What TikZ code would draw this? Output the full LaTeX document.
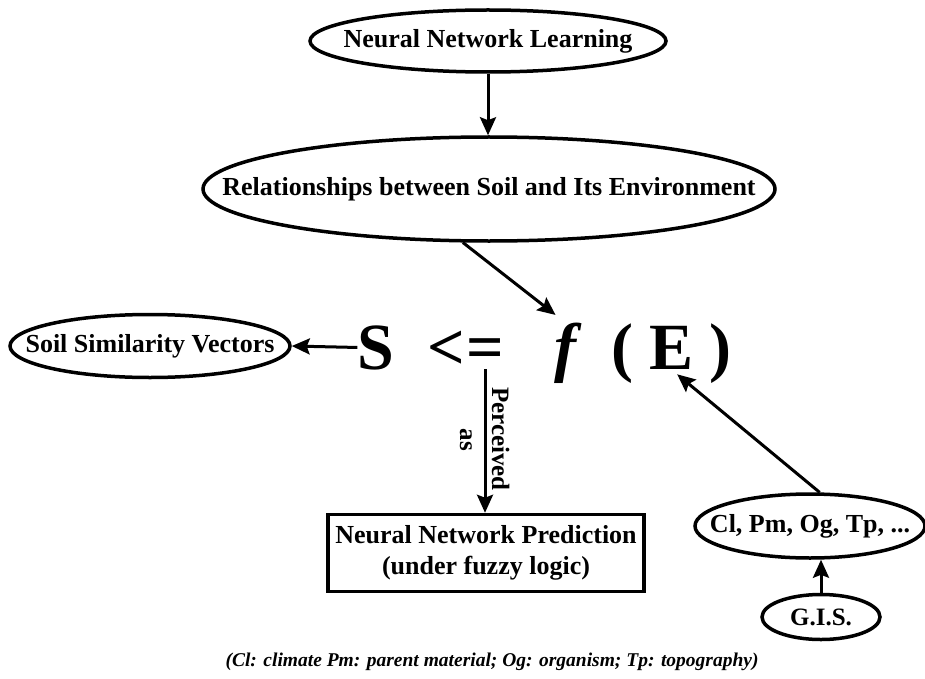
\documentclass[tikz,border=0pt]{standalone}
\usepackage{fontspec}
\setmainfont{Liberation Serif}
\usetikzlibrary{shapes.geometric,arrows.meta}
\begin{document}
\begin{tikzpicture}[x=1pt,y=-1pt,
  oval/.style={ellipse, draw, line width=3.5pt, inner sep=0pt},
  lbl/.style={inner sep=0pt, font=\fontsize{26}{30}\selectfont\bfseries},
  arr/.style={line width=3pt, -{Stealth[length=18pt,width=16pt,inset=3pt]}},
  big/.style={font=\fontsize{66}{70}\selectfont\bfseries, inner sep=0pt, anchor=base},
  vlab/.style={rotate=-90, inner sep=0pt, font=\fontsize{25}{28}\selectfont\bfseries},
]
\useasboundingbox (0,0) rectangle (925,679);
% ovals (outline sized exactly; text set as a centred label)
\node[oval, minimum width=356pt, minimum height=62pt,
      label={[lbl]center:Neural Network Learning}] (nnl) at (488,41) {};
\node[oval, minimum width=572pt, minimum height=104pt,
      label={[lbl]center:Relationships between Soil and Its Environment}] (rel) at (489,189) {};
\node[oval, minimum width=280pt, minimum height=63pt,
      label={[lbl]center:Soil Similarity Vectors}] (ssv) at (150,346) {};
\node[oval, minimum width=230pt, minimum height=64pt,
      label={[lbl]center:{Cl, Pm, Og, Tp, ...}}] (cl) at (810,526) {};
\node[oval, minimum width=118pt, minimum height=45pt,
      label={[lbl, font=\fontsize{25}{30}\selectfont\bfseries]center:G.I.S.}] (gis) at (821,617) {};
% equation
\node[big] (S) at (376,369) {S};
\node[big] (lt) at (446,369) {<};
\node[big] (eq) at (485,369) {=};
\node[big, font=\fontsize{66}{70}\selectfont\bfseries\itshape] (f) at (565,369) {f};
\node[big] (lp) at (622,369) {(};
\node[big] (E) at (671,369) {E};
\node[big] (rp) at (720,369) {)};
% box
\node[draw, line width=3.5pt, minimum width=316pt, minimum height=77pt, align=center,
      inner sep=0pt, font=\fontsize{26}{31}\selectfont\bfseries] (box) at (486,553)
      {Neural Network Prediction\\(under fuzzy logic)};
% labels
\node[vlab, anchor=base west] (perc) at (492,387) {Perceived};
\node[vlab, anchor=base] (as) at (460,440) {as};
% caption
\node[font=\fontsize{19.5}{24}\selectfont\bfseries\itshape] (cap) at (492,662)
      {(Cl: climate Pm: parent material; Og: organism; Tp: topography)};
% connectors
\draw[arr] (nnl.south) -- (nnl.south |- rel.north);
\draw[arr, shorten >=12pt] (rel.244) -- (f.north);
\draw[arr] (S.west) -- (ssv.east);
\draw[arr] (eq.south) -- (eq.south |- box.north);
\draw[arr, shorten >=8pt] (cl.74) -- (E.south);
\draw[arr] (gis.north) -- (gis.north |- cl.south);
\end{tikzpicture}
\end{document}
